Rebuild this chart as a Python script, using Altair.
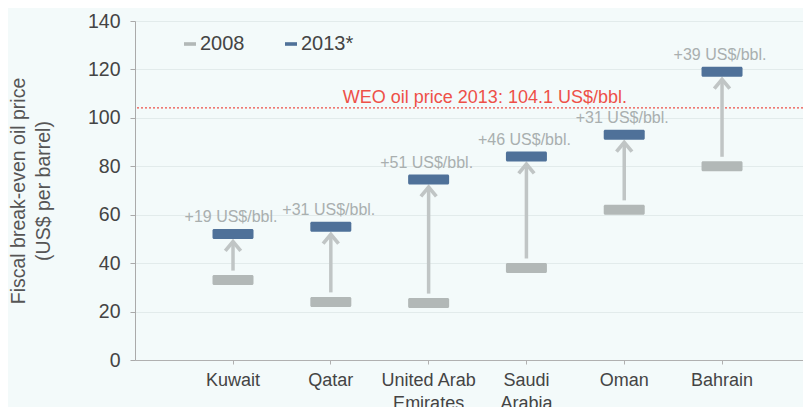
import altair as alt
import pandas as pd

countries = ["Kuwait", "Qatar", "United Arab Emirates", "Saudi Arabia", "Oman", "Bahrain"]
v2008 = [33, 24, 23.5, 38, 62, 80]
v2013 = [52, 55, 74.5, 84, 93, 119]
change_labels = ["+19 US$/bbl.", "+31 US$/bbl.", "+51 US$/bbl.", "+46 US$/bbl.", "+31 US$/bbl.", "+39 US$/bbl."]
years = ["2008", "2013*"]
weo_price = 104.1
weo_label = "WEO oil price 2013: 104.1 US$/bbl."
weo_anchor = "Qatar"
y_ticks = [0, 20, 40, 60, 80, 100, 120, 140]

FONT = "Liberation Sans"
BG = "#f3fafa"
GRAY = "#b2b8b7"
BLUE = "#4f7199"
ARROW = "#c0c5c5"
RED = "#ee5048"

long_df = pd.DataFrame(
    [{"country": c, "year": years[0], "value": a} for c, a in zip(countries, v2008)]
    + [{"country": c, "year": years[1], "value": b} for c, b in zip(countries, v2013)]
)
wide_df = pd.DataFrame({"country": countries, "v2008": v2008, "v2013": v2013, "label": change_labels})
weo_df = pd.DataFrame({"country": [weo_anchor], "price": [weo_price], "label": [weo_label]})

label_expr = (
    "datum.value == 'United Arab Emirates' ? ['United Arab', 'Emirates'] : "
    "datum.value == 'Saudi Arabia' ? ['Saudi', 'Arabia'] : datum.value"
)

x_enc = alt.X(
    "country:N",
    sort=countries,
    scale=alt.Scale(paddingInner=0, paddingOuter=0.415, align=0.605),
    axis=alt.Axis(
        title=None, labelAngle=0, labelExpr=label_expr, labelFontSize=18,
        labelColor="#444444", labelFont=FONT, labelLineHeight=23, labelPadding=7,
        tickSize=4, tickColor="#b0b0b0", domainColor="#b0b0b0", labelBaseline="top",
    ),
)
y_scale = alt.Scale(domain=[0, 140], nice=False)
y_axis = alt.Axis(
    values=y_ticks, title=["Fiscal break-even oil price", "(US$ per barrel)"],
    titleFontSize=19.5, titleFont=FONT, titleFontWeight="normal", titleColor="#555555",
    titlePadding=34, titleLineHeight=25,
    labelFontSize=19.5, labelFont=FONT, labelColor="#444444", labelPadding=10,
    tickSize=5, tickColor="#aaaaaa", domainColor="#aaaaaa",
    grid=True, gridColor="#e2ebeb",
)

red_rule = alt.Chart(weo_df).mark_rule(color=RED, strokeDash=[2, 2], strokeWidth=1.2).encode(
    y=alt.Y("price:Q", scale=y_scale, axis=y_axis)
)

shaft = alt.Chart(wide_df).mark_rule(color=ARROW, strokeWidth=3.5, yOffset=-9.5, y2Offset=7.5).encode(
    x=x_enc,
    y=alt.Y("v2008:Q", scale=y_scale),
    y2="v2013:Q",
)

head = alt.Chart(wide_df).mark_point(
    shape="M-1,1.2L0,0L1,1.2", size=240, filled=False, color=ARROW,
    strokeWidth=3.7, opacity=1, yOffset=7.5,
).encode(x=x_enc, y=alt.Y("v2013:Q", scale=y_scale))

ticks = alt.Chart(long_df).mark_tick(size=41, thickness=10, cornerRadius=1.5, opacity=1).encode(
    x=x_enc,
    y=alt.Y("value:Q", scale=y_scale),
    color=alt.Color(
        "year:N",
        scale=alt.Scale(domain=years, range=[GRAY, BLUE]),
        legend=alt.Legend(
            title=None, orient="none", legendX=45, legendY=13, direction="horizontal",
            symbolType="M-1,-0.3L1,-0.3L1,0.3L-1,0.3Z", symbolSize=144,
            symbolStrokeWidth=0, labelFontSize=20, labelFont=FONT, labelColor="#444444",
            labelOffset=0, columnPadding=36,
        ),
    ),
)

change_text = alt.Chart(wide_df).mark_text(
    fontSize=16, font=FONT, color="#a9afaf", baseline="alphabetic", dy=-12, dx=-2
).encode(x=x_enc, y=alt.Y("v2013:Q", scale=y_scale), text="label:N")

weo_text = alt.Chart(weo_df).mark_text(
    fontSize=18, font=FONT, color=RED, baseline="alphabetic", align="left", dx=12, dy=-5
).encode(x=x_enc, y=alt.Y("price:Q", scale=y_scale), text="label:N")

chart = alt.layer(red_rule, shaft, head, ticks, change_text, weo_text).properties(
    width=668, height=339,
    autosize=alt.AutoSizeParams(type="none"),
    padding={"left": 127, "top": 13, "right": 0, "bottom": 48},
    background=BG,
).configure_view(stroke=None).configure(font=FONT)

chart.save("out.html", embed_options={"renderer": "svg", "actions": False})
